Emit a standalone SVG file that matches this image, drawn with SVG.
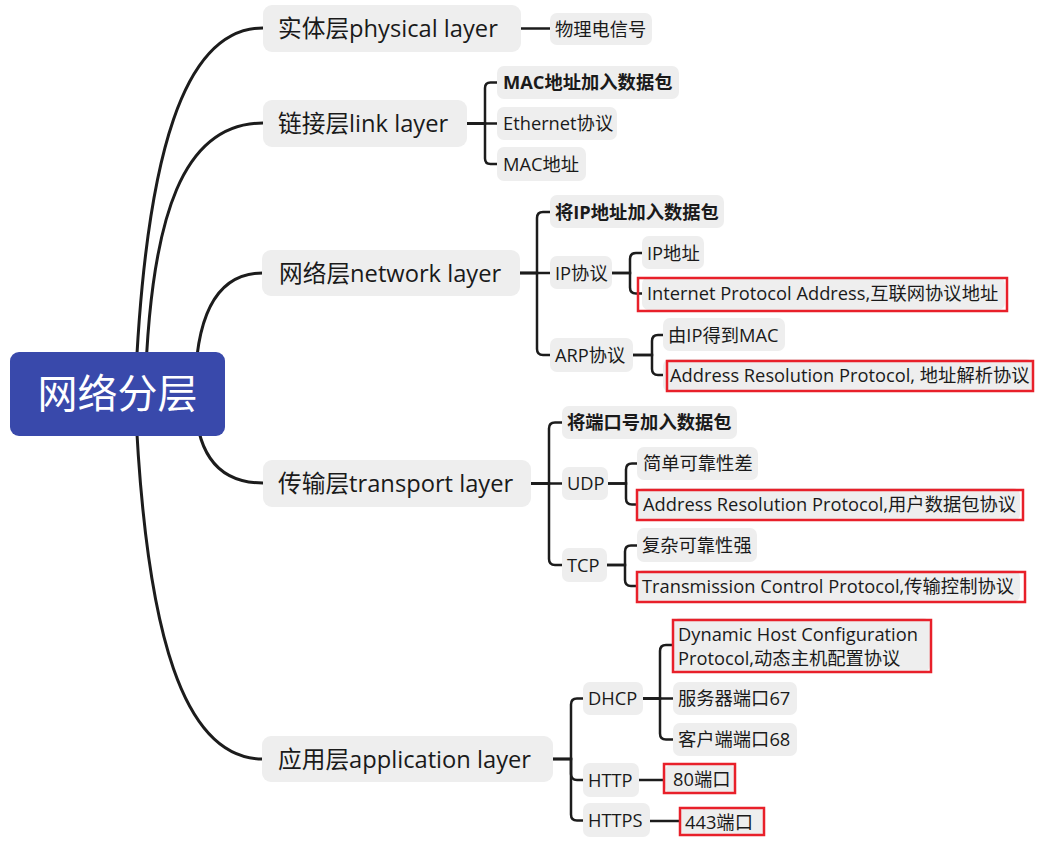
<svg xmlns="http://www.w3.org/2000/svg" width="1050" height="848" viewBox="0 0 1050 848">
<style>
.bg{fill:#ffffff}
.root{fill:#3949AB}
.rt{font-family:"Open Sans","Noto Sans CJK SC",sans-serif;font-size:40px;fill:#ffffff}
.n1{fill:#EEEEEE}
.t1{font-family:"Open Sans","Noto Sans CJK SC",sans-serif;font-size:23.7px;fill:#1a1a1a}
.n2{fill:#EEEEEE}
.t2{font-family:"Open Sans","Noto Sans CJK SC",sans-serif;font-size:18.3px;fill:#1a1a1a}
.b{font-weight:bold}
.red{fill:none;stroke:#E8202A;stroke-width:2.5}
.c1{fill:none;stroke:#1c1c1c;stroke-width:3;stroke-linecap:round}
.c2{fill:none;stroke:#1c1c1c;stroke-width:2.5}
</style>
<rect class="bg" x="0" y="0" width="1050" height="848"/>
<g id="connectors">
<path class="c1" d="M135 394 C145 150 185 28 263 28"/>
<path class="c1" d="M145 394 C150 210 185 123 263 123"/>
<path class="c1" d="M195 394 Q195 273 263 273"/>
<path class="c1" d="M195 394 Q195 483 263 483"/>
<path class="c1" d="M135 394 C145 640 185 759 263 759"/>
<path class="c2" d="M521 28.5 H550"/>
<path class="c2" d="M467 123.5 H485 V88 Q485 82.5 490.5 82.5 H497"/>
<path class="c2" d="M467 123.5 H497"/>
<path class="c2" d="M467 123.5 H485 V158.5 Q485 164 490.5 164 H497"/>
<path class="c2" d="M520 273 H537 V218 Q537 212 543 212 H550"/>
<path class="c2" d="M520 273 H550"/>
<path class="c2" d="M520 273 H537 V349 Q537 355 543 355 H550"/>
<path class="c2" d="M612 273 H630 V259 Q630 253 636 253 H642"/>
<path class="c2" d="M612 273 H630 V287.5 Q630 293.5 636 293.5 H642"/>
<path class="c2" d="M633 355 H652 V341 Q652 335 658 335 H663"/>
<path class="c2" d="M633 355 H652 V369 Q652 375 658 375 H667"/>
<path class="c2" d="M531 483.5 H549 V428.5 Q549 422.5 555 422.5 H562"/>
<path class="c2" d="M531 483.5 H562"/>
<path class="c2" d="M531 483.5 H549 V559 Q549 565 555 565 H562"/>
<path class="c2" d="M608 483.5 H626 V469.5 Q626 463.5 632 463.5 H637"/>
<path class="c2" d="M608 483.5 H626 V498.5 Q626 504.5 632 504.5 H637"/>
<path class="c2" d="M607 565 H625 V551.5 Q625 545.5 631 545.5 H637"/>
<path class="c2" d="M607 565 H625 V580 Q625 586 631 586 H637"/>
<path class="c2" d="M553 759 H571 V704.5 Q571 698.5 577 698.5 H583"/>
<path class="c2" d="M553 759 H571 V774 Q571 780 577 780 H583"/>
<path class="c2" d="M553 759 H571 V814.5 Q571 820.5 577 820.5 H583"/>
<path class="c2" d="M643 698.5 H660 V651 Q660 645 666 645 H673"/>
<path class="c2" d="M643 698.5 H673"/>
<path class="c2" d="M643 698.5 H660 V733.5 Q660 739.5 666 739.5 H673"/>
<path class="c2" d="M639 780 H665"/>
<path class="c2" d="M650 821 H680"/>
</g>
<g id="root"><rect class="root" x="10" y="352" width="215" height="84" rx="9"/><text class="rt" x="117.5" y="408" text-anchor="middle">网络分层</text></g>
<g id="physical"><rect class="n1" x="263" y="5" width="258" height="47" rx="9"/><text class="t1" x="278" y="37">实体层physical layer</text></g>
<g id="link"><rect class="n1" x="263" y="100" width="204" height="47" rx="9"/><text class="t1" x="278" y="132">链接层link layer</text></g>
<g id="network"><rect class="n1" x="262" y="250" width="258" height="46" rx="9"/><text class="t1" x="279" y="281.5">网络层network layer</text></g>
<g id="transport"><rect class="n1" x="263" y="460" width="268" height="47" rx="9"/><text class="t1" x="278" y="492">传输层transport layer</text></g>
<g id="application"><rect class="n1" x="262" y="736" width="291" height="46" rx="9"/><text class="t1" x="278" y="767.5">应用层application layer</text></g>
<g id="n-signal"><rect class="n2" x="550" y="13" width="102" height="32" rx="7"/><text class="t2" x="555" y="35.5">物理电信号</text></g>
<g id="n-mac-add"><rect class="n2" x="497" y="66" width="182" height="33" rx="7"/><text class="t2 b" x="503" y="89">MAC地址加入数据包</text></g>
<g id="n-ethernet"><rect class="n2" x="497" y="107" width="120" height="33" rx="7"/><text class="t2" x="503" y="130">Ethernet协议</text></g>
<g id="n-mac"><rect class="n2" x="497" y="147" width="89" height="34" rx="7"/><text class="t2" x="503" y="170.5">MAC地址</text></g>
<g id="n-ip-add"><rect class="n2" x="550" y="195" width="174" height="33" rx="7"/><text class="t2 b" x="555" y="218.5">将IP地址加入数据包</text></g>
<g id="n-ip"><rect class="n2" x="550" y="256" width="62" height="33" rx="7"/><text class="t2" x="555" y="279.5">IP协议</text></g>
<g id="n-arp"><rect class="n2" x="550" y="338" width="83" height="34" rx="7"/><text class="t2" x="555" y="361.5">ARP协议</text></g>
<g id="n-ipaddr"><rect class="n2" x="642" y="236" width="62" height="33" rx="7"/><text class="t2" x="647" y="259.5">IP地址</text></g>
<g id="n-ipfull"><rect class="n2" x="642" y="277" width="363" height="33" rx="7"/><rect class="red" x="638" y="278" width="369" height="33"/><text class="t2" x="647" y="300">Internet Protocol Address,互联网协议地址</text></g>
<g id="n-ip2mac"><rect class="n2" x="663" y="318" width="122" height="33" rx="7"/><text class="t2" x="668" y="341.5">由IP得到MAC</text></g>
<g id="n-arpfull"><rect class="n2" x="663" y="359" width="370" height="33" rx="7"/><rect class="red" x="667" y="361" width="366" height="30"/><text class="t2" x="670" y="381.5">Address Resolution Protocol, 地址解析协议</text></g>
<g id="n-port-add"><rect class="n2" x="562" y="406" width="175" height="33" rx="7"/><text class="t2 b" x="567" y="429">将端口号加入数据包</text></g>
<g id="n-udp"><rect class="n2" x="562" y="467" width="46" height="33" rx="7"/><text class="t2" x="567" y="490">UDP</text></g>
<g id="n-tcp"><rect class="n2" x="562" y="548" width="45" height="34" rx="7"/><text class="t2" x="567" y="571.5">TCP</text></g>
<g id="n-udp1"><rect class="n2" x="637" y="447" width="121" height="33" rx="7"/><text class="t2" x="643" y="470">简单可靠性差</text></g>
<g id="n-udpfull"><rect class="n2" x="637" y="488" width="383" height="33" rx="7"/><rect class="red" x="637" y="490" width="386" height="30"/><text class="t2" x="643" y="511">Address Resolution Protocol,用户数据包协议</text></g>
<g id="n-tcp1"><rect class="n2" x="637" y="528" width="120" height="34" rx="7"/><text class="t2" x="642" y="552">复杂可靠性强</text></g>
<g id="n-tcpfull"><rect class="n2" x="637" y="570" width="383" height="32" rx="7"/><rect class="red" x="637" y="572" width="388" height="30"/><text class="t2" x="642" y="592.5">Transmission Control Protocol,传输控制协议</text></g>
<g id="n-dhcp"><rect class="n2" x="583" y="682" width="60" height="33" rx="7"/><text class="t2" x="588" y="705">DHCP</text></g>
<g id="n-http"><rect class="n2" x="583" y="763" width="56" height="34" rx="7"/><text class="t2" x="588" y="786.5">HTTP</text></g>
<g id="n-https"><rect class="n2" x="583" y="803" width="67" height="34" rx="7"/><text class="t2" x="588" y="827">HTTPS</text></g>
<g id="n-dhcpfull"><rect class="n2" x="673" y="618" width="257" height="54" rx="7"/><rect class="red" x="673" y="620" width="258" height="52"/><text class="t2" x="678" y="640.5">Dynamic Host Configuration</text><text class="t2" x="678" y="664.5">Protocol,动态主机配置协议</text></g>
<g id="n-server"><rect class="n2" x="673" y="682" width="124" height="33" rx="7"/><text class="t2" x="678" y="705">服务器端口67</text></g>
<g id="n-client"><rect class="n2" x="673" y="723" width="124" height="33" rx="7"/><text class="t2" x="678" y="746">客户端端口68</text></g>
<g id="n-80"><rect class="n2" x="665" y="765" width="70" height="28" rx="6"/><rect class="red" x="664" y="764" width="71" height="29"/><text class="t2" x="673" y="785.5">80端口</text></g>
<g id="n-443"><rect class="n2" x="680" y="808" width="84" height="27" rx="6"/><rect class="red" x="680" y="808" width="84" height="27"/><text class="t2" x="685" y="828.5">443端口</text></g>
</svg>
